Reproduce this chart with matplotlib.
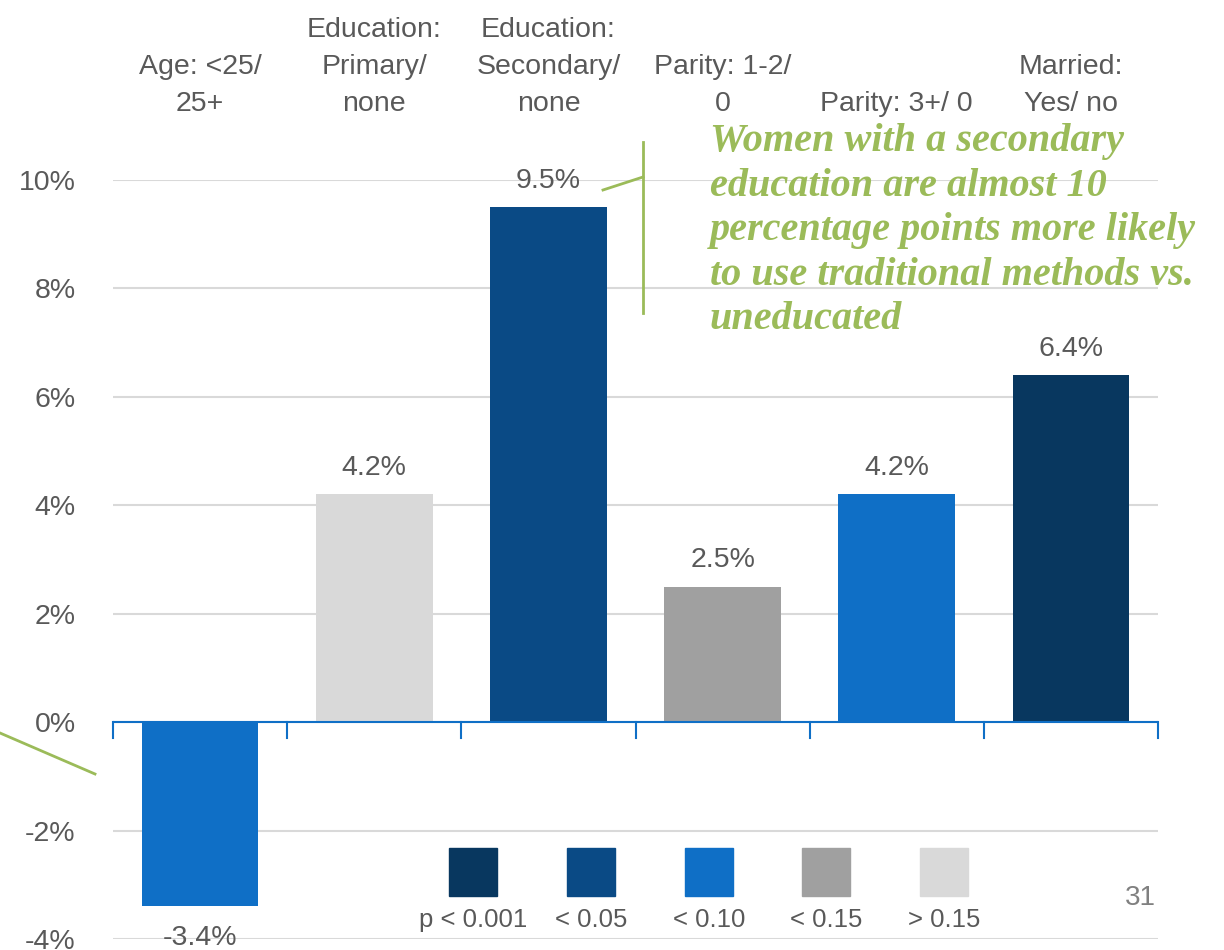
import matplotlib.pyplot as plt
from matplotlib.patches import Rectangle
from matplotlib.lines import Line2D

# Data
categories = ['Age: <25/\n25+', 'Education:\nPrimary/\nnone', 'Education:\nSecondary/\nnone',
              'Parity: 1-2/\n0', 'Parity: 3+/ 0', 'Married:\nYes/ no']
values = [-3.4, 4.2, 9.5, 2.5, 4.2, 6.4]
value_labels = ['-3.4%', '4.2%', '9.5%', '2.5%', '4.2%', '6.4%']
p_groups = ['< 0.10', '> 0.15', '< 0.05', '< 0.15', '< 0.10', 'p < 0.001']

legend_labels = ['p < 0.001', '< 0.05', '< 0.10', '< 0.15', '> 0.15']
legend_colors = ['#08375F', '#0A4A85', '#0F6FC6', '#A0A0A0', '#D9D9D9']
color_map = dict(zip(legend_labels, legend_colors))

yticks = [-4, -2, 0, 2, 4, 6, 8, 10]

note = ('Women with a secondary\neducation are almost 10\npercentage points more likely\n'
        'to use traditional methods vs.\nuneducated')

text_color = '#595959'
green = '#9BBB59'

plt.rcParams['font.family'] = ['Liberation Sans', 'DejaVu Sans']

fig = plt.figure(figsize=(12.24, 9.5), dpi=100)
ax = fig.add_axes([113 / 1224, 11 / 950, 1045 / 1224, (939 - 180) / 950])

x = list(range(len(values)))
colors = [color_map[g] for g in p_groups]
ax.bar(x, values, width=0.67, color=colors, zorder=2)

ax.set_xlim(-0.5, len(values) - 0.5)
ax.set_ylim(-4, 10)
ax.set_yticks(yticks)
ax.set_yticklabels([f'{t}%' for t in yticks], fontsize=20.5, color=text_color)
ax.tick_params(axis='y', length=0, pad=27)
ax.set_xticks([])
ax.grid(axis='y', color='#D9D9D9', linewidth=1.5, zorder=0)
for s in ax.spines.values():
    s.set_visible(False)

# zero axis line with downward tick marks at category boundaries
ax.axhline(0, color='#0F6FC6', linewidth=1.5, zorder=3)
for b in [i - 0.5 for i in range(len(values) + 1)]:
    ax.plot([b, b], [0, -0.3], color='#0F6FC6', linewidth=1.5, zorder=3, clip_on=False)

# value labels
for xi, v, lab in zip(x, values, value_labels):
    if v >= 0:
        ax.text(xi, v + 0.25, lab, ha='center', va='bottom', fontsize=20.5, color=text_color)
    else:
        ax.text(xi, v - 0.35, lab, ha='center', va='top', fontsize=20.5, color=text_color)

# category labels above the plot
for xi, cat in zip(x, categories):
    ax.text(xi, 1.083, cat, transform=ax.get_xaxis_transform(), ha='center', va='bottom',
            fontsize=20.5, color=text_color, linespacing=1.55)

# annotation
fig.text(710 / 1224, 1 - 123 / 950, note, ha='left', va='top', fontsize=29,
         family=['Liberation Serif', 'DejaVu Serif'], style='italic', weight='bold',
         color=green, linespacing=1.27)
fig.add_artist(Line2D([643 / 1224, 643 / 1224], [1 - 142 / 950, 1 - 313 / 950], color=green, linewidth=2))
fig.add_artist(Line2D([603 / 1224, 643 / 1224], [1 - 190 / 950, 1 - 177 / 950], color=green, linewidth=2))
fig.add_artist(Line2D([0, 95 / 1224], [1 - 733 / 950, 1 - 774 / 950], color=green, linewidth=2))

# legend
lx = [473, 591, 709, 826, 944]
for cx, lab, col in zip(lx, legend_labels, legend_colors):
    fig.add_artist(Rectangle(((cx - 24) / 1224, 1 - 896 / 950), 48 / 1224, 48 / 950,
                             color=col, transform=fig.transFigure))
    fig.text(cx / 1224, 1 - 920 / 950, lab, ha='center', va='center', fontsize=18.5, color=text_color)

fig.text(1140 / 1224, 1 - 898 / 950, '31', ha='center', va='center', fontsize=20, color='#808080')

fig.savefig('out.png', dpi=100)
